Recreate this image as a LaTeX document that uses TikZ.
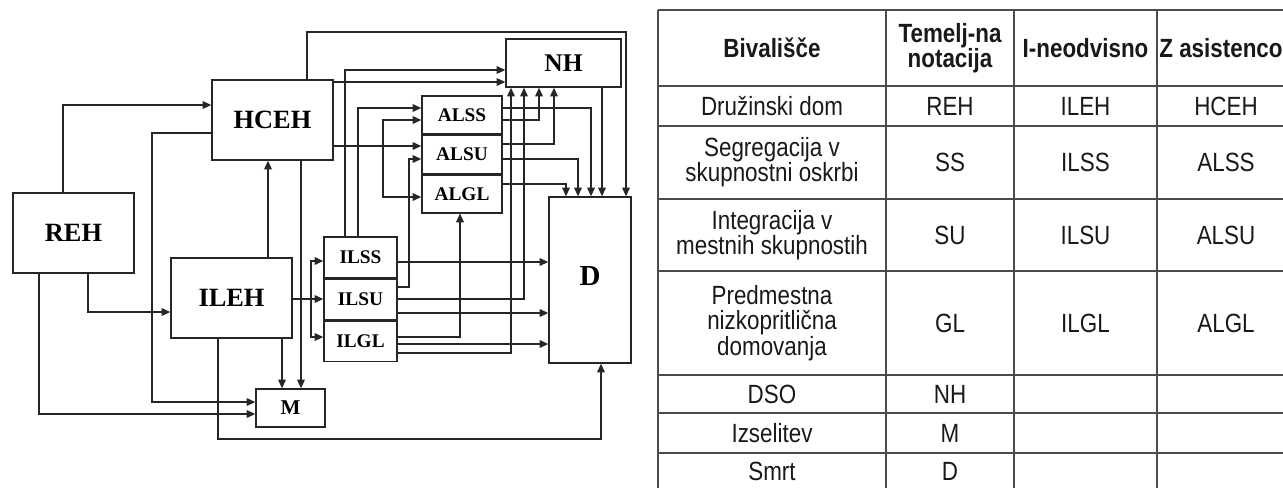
\documentclass[tikz,border=0pt]{standalone}
\usepackage{fontspec}
\setmainfont{Liberation Serif}
\newfontfamily\tabfont[FakeStretch=0.85]{Liberation Sans}
\usetikzlibrary{arrows.meta,positioning}

\begin{document}
\begin{tikzpicture}[x=0.02cm, y=-0.02cm, >={Triangle[length=5pt,width=4.4pt]},
    box/.style={rectangle, draw=black!85, line width=0.8pt, fill=white, inner sep=0pt, font=\bfseries\fontsize{15}{17}\selectfont},
    bigbox/.style={box, minimum width=2.42cm, minimum height=1.6cm},
    subbox/.style={box, minimum width=1.6cm, minimum height=0.76cm, font=\bfseries\fontsize{11}{13}\selectfont},
    ilbox/.style={subbox, minimum width=1.46cm, minimum height=0.813cm},
    link/.style={->, line width=0.75pt, draw=black!85},
    tabline/.style={line width=0.6pt, draw=black!70},
    cell/.style={align=center, inner sep=0pt, text=black!90, font=\tabfont\fontsize{15}{14.4}\selectfont},
    head/.style={cell, font=\tabfont\bfseries\fontsize{15}{14}\selectfont}]

    \useasboundingbox (0,0) rectangle (1283,488);

    % states of the model
    \node [bigbox] (reh) at (73.5,233) {REH};
    \node [bigbox] (hceh) at (272.5,120) {HCEH};
    \node [bigbox] (ileh) at (231.5,298) {ILEH};
    \node [box, minimum width=1.38cm, minimum height=0.76cm, font=\bfseries\fontsize{12}{14}\selectfont] (m) at (290.5,408) {M};
    \node [box, minimum width=1.64cm, minimum height=3.32cm, font=\bfseries\fontsize{16.5}{18}\selectfont] (d) at (590,280) {\raisebox{4.8pt}{D}};
    \node [box, minimum width=2.3cm, minimum height=0.96cm, font=\bfseries\fontsize{14.5}{16}\selectfont] (nh) at (563.5,63) {NH};
    \node [subbox] (alss) at (462,115) {ALSS};
    \node [subbox, below=0pt of alss] (alsu) {ALSU};
    \node [subbox, below=0pt of alsu] (algl) {ALGL};
    \node [ilbox] (ilss) at (360.5,257.3) {ILSS};
    \node [ilbox, below=0pt of ilss] (ilsu) {ILSU};
    \node [ilbox, below=0pt of ilsu] (ilgl) {ILGL};

    % from REH
    \draw [link] (reh.north -| 63,0) |- (hceh.west |- 0,105);
    \draw [link] (reh.south -| 88,0) |- (ileh.west |- 0,312);
    \draw [link] (reh.south -| 39,0) |- (m.west |- 0,414);

    % from HCEH and ILEH
    \draw [link] (hceh.west |- 0,133) -- (152,133) |- (m.west |- 0,402);
    \draw [link] (ileh.north -| 268,0) -- (hceh.south -| 268,0);
    \draw [link] (hceh.south -| 301,0) -- (m.north -| 301,0);
    \draw [link] (ileh.south -| 282,0) -- (m.north -| 282,0);
    \draw [link] (ileh.south -| 218,0) -- (218,439) -| (d.south -| 601,0);
    \draw [link] (hceh.north -| 307,0) -- (307,32) -| (d.north -| 626,0);
    \draw [link] (hceh.east |- 0,82) -- (nh.west |- 0,82);
    \coordinate (hfork) at (383,146);
    \draw [link] (hceh.east |- hfork) -- (alsu.west |- hfork);
    \draw [link] (hfork) |- (alss.west |- 0,120);
    \draw [link] (hfork) |- (algl.west |- 0,197);
    \coordinate (ifork) at (311,299);
    \draw [link] (ileh.east |- ifork) -- (ilsu.west |- ifork);
    \draw [link] (ifork) |- (ilss.west |- 0,261);
    \draw [link] (ifork) |- (ilgl.west |- 0,337);

    % from IL states
    \draw [link] (ilss.north -| 345,0) |- (nh.west |- 0,70);
    \draw [link] (ilss.north -| 358,0) |- (alss.west |- 0,108);
    \draw [link] (ilss.east |- 0,262) -- (d.west |- 0,262);
    \draw [link] (ilsu.east |- 0,287) -- (409,287) |- (alsu.west |- 0,159);
    \draw [link] (ilsu.east |- 0,299) -| (nh.south -| 524,0);
    \draw [link] (ilsu.east |- 0,313) -- (d.west |- 0,313);
    \draw [link] (ilgl.east |- 0,337) -| (algl.south -| 460,0);
    \draw [link] (ilgl.east |- 0,344) -- (d.west |- 0,344);
    \draw [link] (ilgl.east |- 0,353) -| (nh.south -| 511,0);

    % from AL states and NH
    \draw [link] (alss.east |- 0,108) -| (d.north -| 591,0);
    \draw [link] (alss.east |- 0,120) -| (nh.south -| 539,0);
    \draw [link] (alsu.east |- 0,144) -| (nh.south -| 554,0);
    \draw [link] (alsu.east |- 0,159) -| (d.north -| 578,0);
    \draw [link] (algl.east |- 0,184) -| (d.north -| 566,0);
    \draw [link] (nh.south -| 602,0) -- (d.north -| 602,0);

    % notation table
    \foreach \y in {10,86,126,199,271,375,413,453}
        \draw [tabline] (658,\y) -- (1283,\y);
    \foreach \x in {658,886,1014,1157}
        \draw [tabline] (\x,10) -- (\x,488);

    \node [head] (h1) at (772,48) {Bivališče};
    \node [head] (h2) at (950,48) {Temelj-na\\notacija};
    \node [head] (h3) at (1085.5,48) {I-neodvisno};
    \node [head] (h4) at (1221,48) {Z asistenco};

    \node [cell] (r1a) at (772,106) {Družinski dom};
    \node [cell] (r1b) at (950,106) {REH};
    \node [cell] (r1c) at (1085.5,106) {ILEH};
    \node [cell] (r1d) at (1226,106) {HCEH};
    \node [cell] (r2a) at (772,162.5) {Segregacija v\\skupnostni oskrbi};
    \node [cell] (r2b) at (950,162.5) {SS};
    \node [cell] (r2c) at (1085.5,162.5) {ILSS};
    \node [cell] (r2d) at (1226,162.5) {ALSS};
    \node [cell] (r3a) at (772,235) {Integracija v\\mestnih skupnostih};
    \node [cell] (r3b) at (950,235) {SU};
    \node [cell] (r3c) at (1085.5,235) {ILSU};
    \node [cell] (r3d) at (1226,235) {ALSU};
    \node [cell] (r4a) at (772,323) {Predmestna\\nizkopritlična\\domovanja};
    \node [cell] (r4b) at (950,323) {GL};
    \node [cell] (r4c) at (1085.5,323) {ILGL};
    \node [cell] (r4d) at (1226,323) {ALGL};
    \node [cell] (r5a) at (772,394) {DSO};
    \node [cell] (r5b) at (950,394) {NH};
    \node [cell] (r6a) at (772,433) {Izselitev};
    \node [cell] (r6b) at (950,433) {M};
    \node [cell] (r7a) at (772,471) {Smrt};
    \node [cell] (r7b) at (950,471) {D};
\end{tikzpicture}
\end{document}
